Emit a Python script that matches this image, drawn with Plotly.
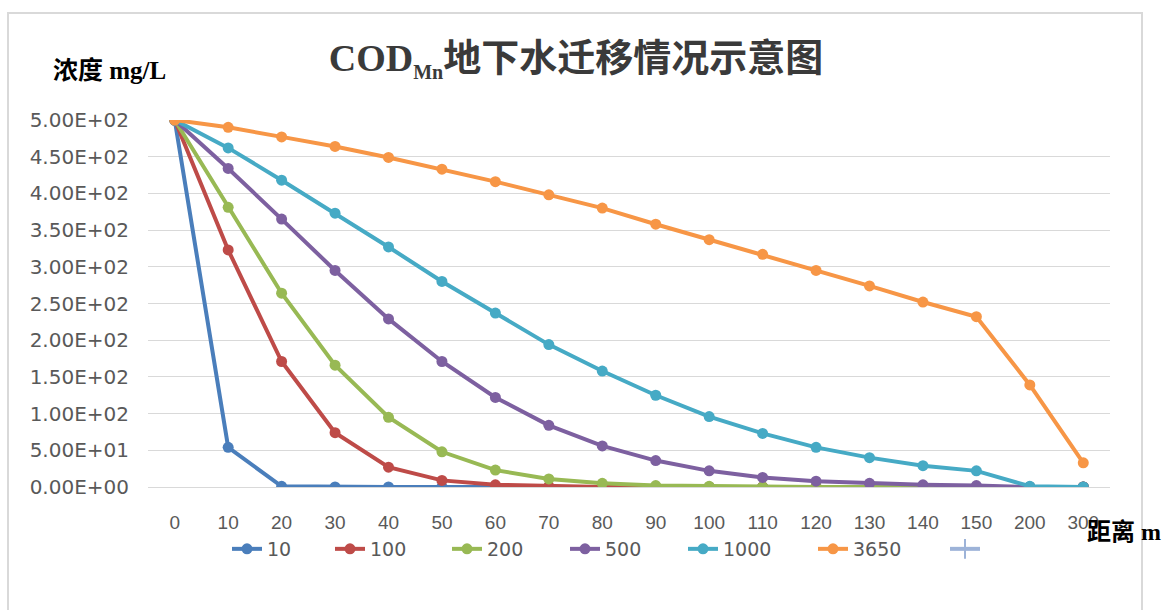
import plotly.graph_objects as go

# Distance from the source (m) -- category axis
distance = ["0", "10", "20", "30", "40", "50", "60", "70", "80", "90",
            "100", "110", "120", "130", "140", "150", "200", "300"]

# COD_Mn concentration (mg/L) after each elapsed time (days)
t10 = [500, 54, 1, 0, 0, 0, 0, 0, 0, 0, 0, 0, 0, 0, 0, 0, 0, 0]
t100 = [500, 323, 171, 74, 27, 9, 3, 1, 0, 0, 0, 0, 0, 0, 0, 0, 0, 0]
t200 = [500, 381, 264, 166, 95, 48, 23, 11, 5, 2, 1, 0, 0, 0, 0, 0, 0, 0]
t500 = [500, 434, 365, 295, 229, 171, 122, 84, 56, 36, 22, 13, 8, 5, 3, 2, 0, 0]
t1000 = [500, 462, 418, 373, 327, 280, 237, 194, 158, 125, 96, 73, 54, 40, 29, 22, 1, 0]
t3650 = [500, 490, 477, 464, 449, 433, 416, 398, 380, 358, 337, 317, 295, 274, 252, 232, 139, 33]
t_blank = [None] * len(distance)

series_names = ["10", "100", "200", "500", "1000", "3650"]
series_colors = ["#4A7EBB", "#BE4B48", "#98B954", "#7D60A0", "#46AAC5", "#F79646"]
# legend entry widths (px) for each series
legend_widths = [58, 72, 73, 73, 85, 87]

y_ticks = [0, 50, 100, 150, 200, 250, 300, 350, 400, 450, 500]
y_tick_text = [f"{v:.2E}" for v in y_ticks]

fig = go.Figure()
for name, color, vals, lw in zip(series_names, series_colors,
                                 [t10, t100, t200, t500, t1000, t3650],
                                 legend_widths):
    fig.add_trace(go.Scatter(
        x=distance, y=vals, name=name, mode="lines+markers",
        line=dict(color=color, width=4),
        marker=dict(color=color, size=11, symbol="circle"),
        legendwidth=lw,
    ))

# unnamed extra series, shown only in the legend
fig.add_trace(go.Scatter(
    x=distance, y=t_blank, name="", mode="lines+markers",
    line=dict(color="#9DB3D8", width=4),
    marker=dict(color="#9DB3D8", size=14, symbol="line-ns",
                line=dict(color="#9DB3D8", width=2)),
    legendwidth=40,
))

L, R, T, B = 148, 53, 120, 123
PW, PH = 1163 - L - R, 610 - T - B

def px_x(x):
    return (x - L) / PW

def px_y(y):
    return (610 - B - y) / PH

serif_cjk = "Liberation Serif, Noto Sans CJK SC"

fig.update_layout(
    width=1163, height=610,
    margin=dict(l=L, r=R, t=T, b=B),
    paper_bgcolor="white", plot_bgcolor="white",
    showlegend=True,
    legend=dict(
        orientation="h", x=px_x(227), y=px_y(549),
        xanchor="left", yanchor="middle",
        font=dict(family="DejaVu Sans", size=19, color="#595959"),
        entrywidth=80, itemclick=False, traceorder="normal",
    ),
    title=dict(
        text="COD<sub><span style='font-size:20px'>Mn</span></sub>地下水迁移情况示意图",
        x=px_x(576), xanchor="center", xref="paper",
        y=1 - 58 / 610, yanchor="middle",
        font=dict(family=serif_cjk, size=38, color="#3A3A3A", weight="bold"),
    ),
    xaxis=dict(
        type="category", categoryorder="array", categoryarray=distance,
        range=[-0.5, len(distance) - 0.5],
        showgrid=False, showline=True, linecolor="#D9D9D9", linewidth=1,
        ticks="", ticklabelstandoff=18,
        tickfont=dict(family="Liberation Sans", size=19, color="#595959"),
        zeroline=False,
    ),
    yaxis=dict(
        range=[0, 500], tickvals=y_ticks, ticktext=y_tick_text,
        showgrid=True, gridcolor="#D9D9D9", gridwidth=1,
        showline=False, zeroline=False, ticks="", ticklabelstandoff=18,
        tickfont=dict(family="DejaVu Sans", size=20, color="#595959"),
    ),
    shapes=[dict(
        type="rect", xref="paper", yref="paper",
        x0=px_x(8), x1=px_x(1142), y0=px_y(640), y1=px_y(13),
        line=dict(color="#D9D9D9", width=2), fillcolor="rgba(0,0,0,0)",
        layer="below",
    )],
    annotations=[
        dict(text="浓度 mg/L", xref="paper", yref="paper",
             x=px_x(51), y=px_y(70), xanchor="left", yanchor="middle",
             showarrow=False,
             font=dict(family=serif_cjk, size=25, color="#000000", weight="bold")),
        dict(text="距离 m", xref="paper", yref="paper",
             x=px_x(1085), y=px_y(532), xanchor="left", yanchor="middle",
             showarrow=False,
             font=dict(family=serif_cjk, size=24, color="#000000", weight="bold")),
    ],
)

fig.write_html("out.html")
